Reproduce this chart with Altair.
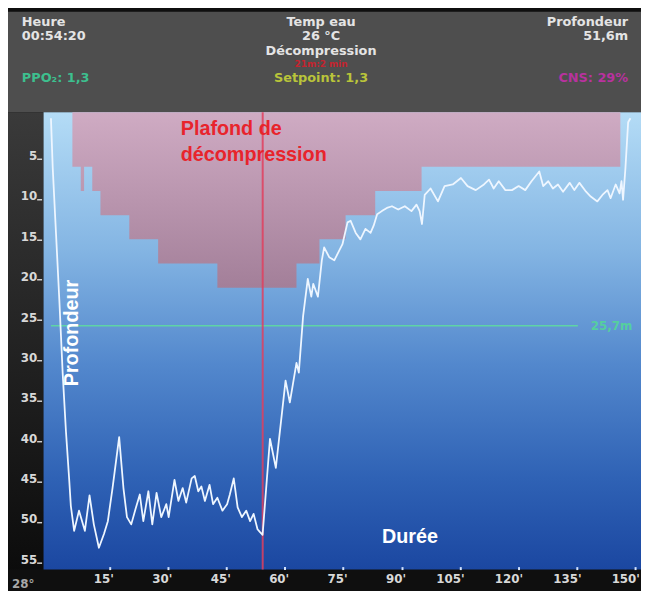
import altair as alt
import pandas as pd

# ---------------- data ----------------
# dive profile: time (min) and depth (m)
depth_t = [0.0, 0.46, 1.3, 2.15, 3.0, 3.85, 4.7, 5.1, 5.95, 7.2, 8.7, 9.9, 11.0, 12.3, 13.6,
           14.6, 15.8, 17.5, 18.6, 19.5, 20.6, 21.7, 22.8, 23.7, 25.0, 26.0, 27.1, 28.3, 29.6,
           30.2, 31.7, 32.7, 33.8, 34.7, 36.1, 36.9, 37.8, 38.6, 39.5, 40.7, 41.6, 42.7, 44.0,
           45.2, 45.9, 46.9, 47.9, 49.0, 50.1, 51.1, 52.0, 53.0, 53.7, 54.3, 56.2, 57.7, 60.2,
           61.3, 63.0, 63.6, 64.7, 65.9, 66.8, 67.3, 68.5, 69.5, 70.1, 71.4, 72.7, 74.8, 76.1,
           76.9, 78.2, 79.4, 80.7, 82.0, 82.8, 83.7, 84.9, 86.2, 87.5, 89.1, 90.8, 92.5, 93.8,
           94.6, 95.2, 95.9, 97.4, 99.3, 101.0, 103.1, 105.2, 106.9, 109.0, 111.1, 112.4, 113.6,
           114.9, 116.6, 118.3, 120.0, 121.7, 123.3, 125.3, 126.3, 127.6, 128.8, 130.1, 131.4,
           133.1, 134.3, 135.6, 137.3, 138.5, 140.2, 141.5, 142.8, 143.6, 144.9, 145.9, 146.4,
           146.8, 147.4, 148.1, 148.7]
depth_m = [0.0, 6.2, 14.3, 22.5, 31.5, 38.8, 44.9, 48.0, 51.1, 48.6, 51.1, 46.7, 50.3, 53.2, 51.5,
           49.9, 45.8, 39.5, 45.8, 49.4, 50.3, 48.4, 46.6, 49.9, 46.2, 50.3, 46.4, 49.4, 47.8,
           49.4, 44.8, 47.4, 45.8, 47.6, 44.6, 44.3, 46.2, 45.6, 47.4, 45.4, 47.8, 47.0, 48.6,
           47.8, 46.6, 44.6, 48.2, 49.4, 48.6, 49.9, 49.0, 50.9, 51.3, 51.6, 39.7, 43.3, 32.5,
           35.2, 30.3, 31.5, 24.5, 19.9, 22.1, 20.5, 22.1, 17.6, 16.0, 17.2, 17.6, 15.6, 12.9,
           12.7, 14.2, 15.0, 13.7, 14.2, 13.3, 11.9, 11.5, 11.1, 10.9, 11.3, 10.9, 11.5, 10.7,
           11.5, 13.1, 9.5, 8.7, 10.3, 8.4, 8.2, 7.4, 8.4, 8.9, 8.2, 7.6, 8.7,
           7.8, 8.9, 8.9, 8.4, 8.9, 7.8, 6.6, 8.4, 7.8, 8.7, 8.2, 9.1,
           8.0, 8.9, 8.0, 9.1, 9.7, 10.3, 9.5, 8.9, 9.9, 8.2, 9.3, 7.8,
           10.1, 6.2, 0.5, 0.0]

# decompression ceiling (step after each time)
ceiling_t = [5.5, 7.65, 8.5, 10.6, 12.7, 20.1, 27.5, 42.7, 63.0, 68.9, 75.6, 83.2, 95.1, 146.1]
ceiling_m = [6, 9, 6, 9, 12, 15, 18, 21, 18, 15, 12, 9, 6, 0]

x_ticks = [15, 30, 45, 60, 75, 90, 105, 120, 135, 150]
y_ticks = [5, 10, 15, 20, 25, 30, 35, 40, 45, 50, 55]

current_time = 54.33
ref_depth = 25.7
ref_line_start, ref_line_end = 0.0, 135.2

X_DOM = [-1.9, 151.4]
Y_DOM = [-0.73, 55.9]

# ---------------- chart ----------------
prof = pd.DataFrame({"t": depth_t, "d": depth_m})
ceil = pd.DataFrame({"t": ceiling_t, "d": ceiling_m})
one = pd.DataFrame({"k": [0]})

xs = alt.Scale(domain=X_DOM, nice=False, zero=False)
ys = alt.Scale(domain=Y_DOM, nice=False, zero=False, reverse=True)

x_axis = alt.Axis(values=x_ticks, title=None, grid=False, domain=False, orient="bottom",
                  offset=-3, tickSize=3, tickWidth=2, tickColor="#d4e4ff",
                  labelColor="#d8d8d8", labelFont="DejaVu Sans", labelFontWeight="bold",
                  labelFontSize=12, labelAlign="right", labelOffset=4, labelPadding=4,
                  labelBaseline="top", labelExpr="datum.value + \"'\"",
                  labelOverlap=False, labelFlush=False, zindex=1)
y_axis = alt.Axis(values=y_ticks, title=None, grid=False, domain=False, orient="left",
                  offset=2, tickSize=5, tickWidth=1.5, tickColor="#cfcfcf",
                  labelColor="#d8d8d8", labelFont="DejaVu Sans", labelFontWeight="bold",
                  labelFontSize=12, labelAlign="right", labelBaseline="alphabetic",
                  labelOffset=1, labelPadding=0, labelOverlap=False, labelFlush=False,
                  zindex=1)


def X(d):
    return alt.X(datum=d, type="quantitative", scale=xs)


def Y(d):
    return alt.Y(datum=d, type="quantitative", scale=ys)


def grad(stops):
    return alt.Gradient(gradient="linear", x1=0, x2=0, y1=0, y2=1,
                        stops=[alt.GradientStop(color=c, offset=o) for o, c in stops])


# plot background
bg = alt.Chart(one).mark_rect(
    fill=grad([(0, "#b4dcf6"), (0.3, "#84b5e3"), (0.55, "#5388cd"), (0.8, "#2f62b5"), (1, "#1b47a1")])
).encode(x=X(X_DOM[0]), x2=alt.X2(datum=X_DOM[1]), y=Y(Y_DOM[0]), y2=alt.Y2(datum=Y_DOM[1]))

# header & left column backgrounds (outside the plot area)
header_bg = alt.Chart(one).mark_rect(color="#4e4e4e").encode(
    x=alt.value(-36), x2=alt.value(605), y=alt.value(-102), y2=alt.value(0))
left_bg = alt.Chart(one).mark_rect(fill=grad([(0, "#3a3a3a"), (1, "#0c0c0c")])).encode(
    x=alt.value(-36), x2=alt.value(0), y=alt.value(0), y2=alt.value(463))

# decompression ceiling
ceiling = alt.Chart(ceil).mark_area(
    interpolate="step-after",
    color=grad([(0, "#cfabc3"), (1, "#a37f99")]),
).encode(x=alt.X("t:Q", scale=xs, axis=x_axis), y=alt.Y("d:Q", scale=ys, axis=y_axis),
         y2=alt.Y2(datum=Y_DOM[0]))

# reference ppO2 depth line
ref_rule = alt.Chart(one).mark_rule(color="#5fd4a5", strokeWidth=1.5).encode(
    x=X(ref_line_start), x2=alt.X2(datum=ref_line_end), y=Y(ref_depth))
ref_text = alt.Chart(one).mark_text(align="right", baseline="middle", color="#55cf9e",
                                    font="DejaVu Sans", fontWeight="bold", fontSize=12).encode(
    x=X(149.2), y=Y(ref_depth), text=alt.value("25,7m"))

# current time cursor
cursor = alt.Chart(one).mark_rule(color="#e0405e", strokeWidth=2, opacity=0.85).encode(
    x=X(current_time), y=Y(Y_DOM[0]), y2=alt.Y2(datum=Y_DOM[1]))

# depth profile
profile = alt.Chart(prof).mark_line(color="#eef6ff", strokeWidth=1.8, strokeJoin="round").encode(
    x=alt.X("t:Q", scale=xs, axis=x_axis), y=alt.Y("d:Q", scale=ys, axis=y_axis))

# annotations inside the plot
plafond = alt.Chart(one).mark_text(align="left", baseline="alphabetic", color="#e8242c",
                                   font="Liberation Sans", fontWeight="bold", fontSize=20,
                                   lineHeight=26).encode(
    x=X(33.3), y=Y(2.1), text=alt.value(["Plafond de", "décompression"]))
prof_lbl = alt.Chart(one).mark_text(align="center", baseline="middle", color="#ffffff",
                                    font="Liberation Sans", fontWeight="bold", fontSize=20,
                                    angle=270).encode(
    x=X(5.4), y=Y(26.6), text=alt.value("Profondeur"))
duree = alt.Chart(one).mark_text(align="center", baseline="middle", color="#ffffff",
                                 font="Liberation Sans", fontWeight="bold", fontSize=20).encode(
    x=X(92.1), y=Y(51.9), text=alt.value("Durée"))


def htxt(text, x, y, align="left", color="#e4e4e4", size=13):
    return alt.Chart(one).mark_text(align=align, baseline="middle", color=color,
                                    font="DejaVu Sans", fontWeight="bold", fontSize=size).encode(
        x=alt.value(x), y=alt.value(y), text=alt.value(text))


header = [
    htxt("Heure", -22, -91),
    htxt("00:54:20", -22, -77),
    htxt("Temp eau", 281, -91, "center"),
    htxt("26 °C", 281, -77, "center"),
    htxt("Profondeur", 592, -91, "right"),
    htxt("51,6m", 592, -77, "right"),
    htxt("Décompression", 281, -62, "center"),
    htxt("21m:2 min", 281, -49, "center", "#c4242e", 9),
    htxt("PPO₂: 1,3", -22, -35, "left", "#3dbf8e"),
    htxt("Setpoint: 1,3", 281, -35, "center", "#b9c43a"),
    htxt("CNS: 29%", 592, -35, "right", "#b8329e"),
    htxt("28°", -32, 478, "left", "#a8a8a8", 12),
]

chart = alt.layer(
    header_bg, left_bg, bg, ceiling, ref_rule, ref_text, cursor, profile,
    plafond, prof_lbl, duree, *header
).properties(
    width=605, height=463,
    autosize=alt.AutoSizeParams(type="none"),
    padding={"left": 36, "top": 102, "right": 0, "bottom": 18},
    background="#0f0f0f",
).configure_view(stroke=None)

chart.save("out.html", embed_options={"renderer": "svg", "actions": False})
